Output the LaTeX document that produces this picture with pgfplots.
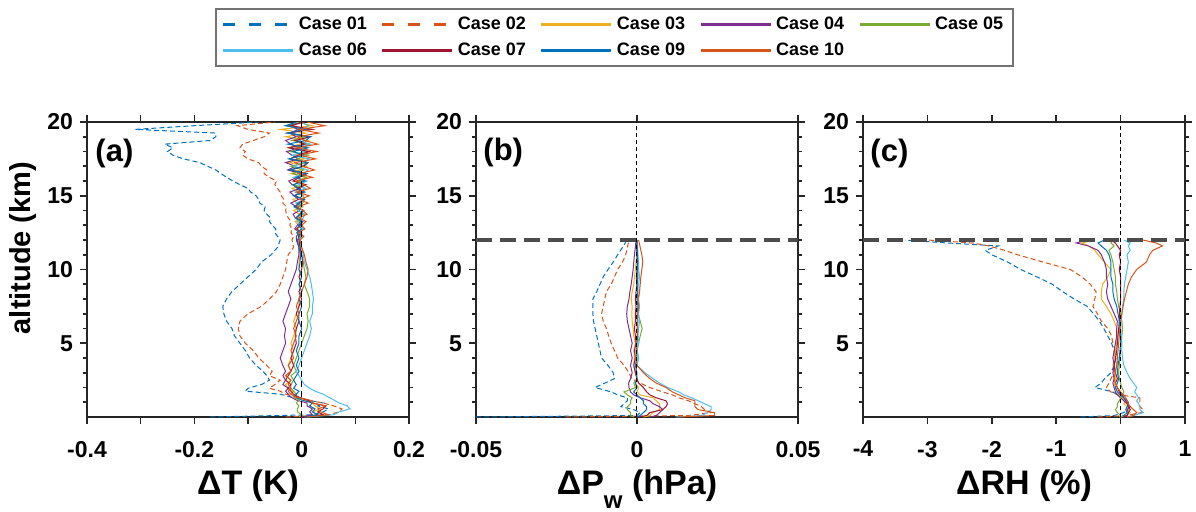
\documentclass[border=0pt]{standalone}
\usepackage{pgfplots}
\pgfplotsset{compat=1.18}
\usepackage{pgfplotstable}
\usepackage{fontspec}
\setmainfont{Liberation Sans}

\definecolor{c01}{HTML}{0072BD}
\definecolor{c02}{HTML}{D95319}
\definecolor{c03}{HTML}{EDB120}
\definecolor{c04}{HTML}{7E2F8E}
\definecolor{c05}{HTML}{77AC30}
\definecolor{c06}{HTML}{4DBEEE}
\definecolor{c07}{HTML}{A2142F}
\definecolor{c09}{HTML}{0072BD}
\definecolor{c10}{HTML}{D95319}
\definecolor{axc}{HTML}{262626}

% Panel (a): Delta T (K)
\pgfplotstableread{
alt c01 c02 c03 c04 c05 c06 c07 c09 c10
0.0 -0.17 -0.03 0.005 0.0 -0.005 0.01 0.0 0.005 0.01
0.15 0.02 0.05 0.03 0.02 0.0 0.06 0.04 0.03 0.05
0.35 0.04 0.07 0.02 0.015 -0.008 0.07 0.03 0.02 0.035
0.55 0.05 0.075 0.035 0.02 -0.008 0.09 0.04 0.025 0.03
0.75 0.03 0.06 0.025 0.01 -0.005 0.085 0.045 0.015 0.045
0.95 0.04 0.04 0.02 0.01 -0.01 0.07 0.02 0.02 0.02
1.15 0.01 0.01 0.005 -0.01 -0.005 0.06 0.01 0.0 0.015
1.35 -0.02 -0.01 -0.01 -0.02 -0.015 0.05 -0.005 -0.01 -0.01
1.55 -0.04 -0.03 -0.02 -0.025 -0.01 0.04 -0.015 -0.01 -0.02
1.75 -0.105 -0.04 -0.015 -0.03 -0.015 0.025 -0.02 -0.005 -0.025
1.95 -0.10 -0.06 -0.025 -0.025 -0.02 0.015 -0.025 -0.015 -0.02
2.2 -0.075 -0.05 -0.03 -0.035 -0.02 0.005 -0.02 -0.01 -0.025
2.5 -0.06 -0.04 -0.02 -0.03 -0.015 0.0 -0.03 -0.015 -0.02
2.8 -0.065 -0.06 -0.03 -0.035 -0.02 -0.005 -0.025 -0.01 -0.03
3.1 -0.072 -0.055 -0.02 -0.03 -0.01 -0.01 -0.02 -0.005 -0.02
3.5 -0.085 -0.065 -0.025 -0.035 -0.015 -0.005 -0.015 -0.01 -0.025
4.0 -0.097 -0.08 -0.02 -0.04 -0.01 0.0 -0.02 -0.005 -0.015
4.5 -0.105 -0.09 -0.015 -0.035 -0.005 0.005 -0.015 -0.01 -0.02
5.0 -0.115 -0.105 -0.02 -0.03 0.0 0.01 -0.01 -0.005 -0.015
5.5 -0.125 -0.115 -0.015 -0.032 0.005 0.015 -0.012 -0.005 -0.01
6.0 -0.13 -0.118 -0.01 -0.03 0.01 0.018 -0.01 0.0 -0.015
6.5 -0.14 -0.115 -0.015 -0.035 0.012 0.015 -0.005 -0.005 -0.01
7.0 -0.145 -0.10 -0.01 -0.03 0.01 0.02 -0.01 -0.005 -0.005
7.5 -0.147 -0.075 -0.005 -0.025 0.015 0.02 -0.005 0.0 -0.01
8.0 -0.14 -0.06 -0.005 -0.02 0.015 0.022 0.0 -0.005 -0.005
8.5 -0.13 -0.047 0.0 -0.025 0.01 0.02 -0.005 0.0 0.0
9.0 -0.115 -0.04 -0.005 -0.02 0.005 0.018 0.0 -0.005 0.005
9.5 -0.10 -0.035 0.0 -0.015 0.008 0.015 -0.005 0.0 0.01
10.0 -0.085 -0.03 -0.005 -0.01 0.005 0.01 0.0 -0.005 0.012
10.5 -0.075 -0.028 -0.005 -0.008 0.003 0.005 0.002 -0.003 0.008
11.0 -0.057 -0.025 -0.003 -0.005 0.0 0.003 0.0 -0.002 0.005
11.5 -0.045 -0.015 -0.005 -0.005 -0.002 0.0 -0.003 -0.005 0.0
12.0 -0.04 -0.018 -0.008 -0.01 -0.005 -0.003 -0.005 -0.008 -0.003
12.25 -0.045 -0.015 -0.002 -0.01 0.0 0.002 -0.006 -0.004 0.004
12.5 -0.05 -0.02 -0.009 -0.004 -0.006 -0.005 0.0 -0.009 -0.005
12.75 -0.048 -0.018 0.001 -0.013 -0.01 0.004 -0.009 0.0 0.006
13.0 -0.055 -0.022 -0.006 -0.008 0.001 -0.003 -0.003 -0.006 0.0
13.25 -0.06 -0.02 -0.012 -0.002 -0.004 -0.008 0.002 0.002 0.008
13.5 -0.058 -0.025 0.0 -0.012 -0.011 0.003 -0.01 -0.011 -0.005
13.75 -0.065 -0.028 -0.004 -0.016 0.003 0.006 -0.004 -0.002 0.01
14.0 -0.07 -0.03 -0.015 -0.004 -0.006 -0.007 0.004 0.003 0.002
14.25 -0.068 -0.028 0.003 -0.01 -0.013 0.0 -0.012 -0.014 -0.008
14.5 -0.078 -0.035 -0.008 -0.02 0.002 -0.011 -0.006 -0.004 0.012
14.75 -0.08 -0.033 -0.016 -0.006 0.005 0.006 0.005 0.004 -0.003
15.0 -0.085 -0.038 0.004 -0.014 -0.012 0.002 -0.014 -0.015 0.014
15.25 -0.095 -0.04 -0.003 -0.022 -0.004 -0.012 0.002 0.006 -0.009
15.5 -0.10 -0.045 -0.018 -0.003 0.007 0.007 -0.008 -0.008 0.016
15.75 -0.115 -0.05 0.006 -0.018 -0.015 -0.006 0.008 -0.016 0.004
16.0 -0.128 -0.047 -0.01 -0.024 -0.002 0.01 -0.016 0.006 -0.01
16.25 -0.14 -0.06 0.008 -0.008 0.009 -0.015 -0.004 -0.01 0.02
16.5 -0.15 -0.07 -0.02 -0.002 -0.016 0.004 0.01 0.008 -0.006
16.75 -0.16 -0.065 -0.004 -0.026 0.004 0.012 -0.02 -0.022 0.024
17.0 -0.175 -0.075 0.01 -0.012 -0.02 -0.014 0.004 0.002 0.002
17.25 -0.19 -0.08 -0.024 -0.03 0.01 0.0 0.012 0.01 -0.012
17.5 -0.22 -0.10 0.005 -0.006 -0.008 0.014 -0.022 -0.024 0.026
17.75 -0.24 -0.11 -0.012 -0.018 0.013 -0.018 -0.006 0.004 -0.004
18.0 -0.25 -0.105 0.014 -0.028 -0.022 0.006 0.014 -0.016 0.028
18.25 -0.24 -0.115 -0.026 -0.004 0.002 -0.022 -0.024 0.012 -0.01
18.5 -0.255 -0.11 -0.004 -0.02 0.015 0.015 0.006 -0.026 0.03
18.75 -0.17 -0.09 0.012 -0.03 -0.018 -0.006 -0.012 0.008 0.005
19.0 -0.16 -0.07 -0.03 -0.01 0.006 0.016 0.016 0.016 -0.008
19.25 -0.16 -0.06 0.008 -0.022 -0.024 -0.02 -0.026 -0.027 0.032
19.5 -0.31 -0.10 -0.04 -0.006 0.012 0.004 0.02 0.006 -0.005
19.75 -0.20 -0.12 0.02 -0.025 -0.03 0.012 -0.02 -0.03 0.043
20.0 -0.08 -0.05 -0.01 0.0 -0.005 0.0 0.005 -0.01 0.01
}\tabA

% Panel (b): Delta Pw (hPa)
\pgfplotstableread{
alt c01 c02 c03 c04 c05 c06 c07 c09 c10
0.0 -0.05 -0.022 0.002 0.004 -0.001 0.012 0.0 0.0 0.013
0.1 0.0 0.016 0.004 0.006 -0.002 0.02 0.003 0.001 0.024
0.3 0.001 0.023 0.005 0.007 -0.002 0.022 0.004 0.002 0.024
0.5 -0.001 0.021 0.007 0.008 -0.003 0.023 0.008 0.003 0.019
0.7 -0.005 0.02 0.007 0.007 -0.003 0.023 0.009 0.003 0.018
0.9 -0.004 0.018 0.007 0.005 -0.002 0.021 0.0095 0.002 0.018
1.1 -0.003 0.016 0.006 0.004 -0.002 0.019 0.009 0.002 0.018
1.3 -0.003 0.013 0.005 0.001 -0.0015 0.017 0.006 0.001 0.015
1.5 -0.006 0.011 0.001 -0.001 -0.003 0.0145 0.004 0.0 0.013
1.7 -0.008 0.008 0.0 -0.002 -0.004 0.013 0.003 -0.001 0.011
2.0 -0.013 0.004 0.0005 -0.0025 -0.0005 0.0095 0.002 0.0 0.009
2.3 -0.01 0.001 -0.0005 -0.0026 -0.001 0.007 0.0005 -0.0005 0.006
2.6 -0.007 -0.0016 0.0 -0.002 0.0 0.005 0.0 0.0 0.004
3.0 -0.0074 -0.0025 -0.0005 -0.0015 -0.0005 0.0025 -0.0005 0.0 0.002
3.5 -0.009 -0.004 -0.001 -0.002 0.0 0.0 -0.001 -0.0005 0.0
4.0 -0.011 -0.006 -0.0008 -0.0015 0.0005 0.0005 -0.0005 0.0 -0.0005
4.5 -0.0115 -0.007 -0.001 -0.002 0.0 0.0 -0.0008 -0.0003 0.0
5.0 -0.012 -0.008 -0.0005 -0.0015 0.0005 0.0005 -0.0003 0.0 -0.0003
5.5 -0.0125 -0.0088 -0.001 -0.002 0.001 0.0003 -0.0005 0.0002 0.0
6.0 -0.013 -0.0095 -0.0012 -0.0025 0.0016 0.0005 -0.0008 0.0 0.0003
6.5 -0.0135 -0.0105 -0.0015 -0.003 0.001 0.0008 -0.0005 0.0003 0.0
7.0 -0.0137 -0.011 -0.0016 -0.0032 0.0003 0.0005 -0.0005 0.0 0.0002
7.5 -0.0137 -0.0105 -0.0015 -0.003 0.0005 0.0008 -0.0003 0.0003 0.0005
8.0 -0.0137 -0.01 -0.0018 -0.0025 0.0 0.0005 -0.0005 0.0 0.0003
8.5 -0.0125 -0.0095 -0.0015 -0.0022 0.0003 0.0008 -0.0003 0.0002 0.0008
9.0 -0.0115 -0.008 -0.001 -0.0018 0.0 0.0005 0.0 0.0 0.001
9.5 -0.0105 -0.007 -0.0008 -0.0015 0.0002 0.0008 -0.0002 0.0003 0.0012
10.0 -0.009 -0.006 -0.0005 -0.0012 0.0 0.0005 0.0 0.0002 0.0015
10.5 -0.0074 -0.0045 -0.0003 -0.001 0.0002 0.0005 0.0002 0.0 0.0018
11.0 -0.006 -0.0035 0.0 -0.0008 0.0 0.0003 0.0 0.0002 0.0015
11.5 -0.0045 -0.003 -0.0002 -0.0005 0.0 0.0002 0.0 0.0 0.001
12.0 -0.0031 -0.0025 -0.0002 -0.0003 0.0 0.0 0.0 0.0 0.0005
}\tabB

% Panel (c): Delta RH (%)
\pgfplotstableread{
alt c01 c02 c03 c04 c05 c06 c07 c09 c10
0.0 -0.62 -0.35 0.0 0.05 -0.02 0.1 0.05 0.03 0.1
0.1 -0.1 0.1 0.1 0.1 0.0 0.2 0.1 0.05 0.2
0.3 0.05 0.32 0.15 0.12 -0.05 0.35 0.12 0.1 0.25
0.5 0.1 0.35 0.12 0.1 -0.08 0.3 0.15 0.08 0.2
0.7 0.14 0.3 0.1 0.15 -0.05 0.3 0.12 0.1 0.15
0.9 0.14 0.3 0.05 0.1 -0.05 0.28 0.1 0.12 0.12
1.1 0.1 0.3 0.08 0.05 -0.02 0.25 0.08 0.1 0.1
1.3 0.09 0.3 0.02 0.0 0.0 0.28 0.05 0.05 0.08
1.5 -0.05 -0.01 -0.02 -0.05 0.02 0.25 0.02 0.0 0.05
1.7 -0.12 -0.15 -0.05 -0.08 0.05 0.22 -0.02 -0.05 0.0
2.0 -0.4 -0.22 -0.08 -0.1 0.02 0.25 -0.05 -0.08 -0.05
2.3 -0.3 -0.18 -0.1 -0.12 0.0 0.2 -0.08 -0.05 -0.08
2.6 -0.25 -0.15 -0.08 -0.1 -0.02 0.15 -0.05 -0.03 -0.1
3.0 -0.15 -0.1 -0.1 -0.12 -0.03 0.1 -0.08 -0.05 -0.08
3.5 -0.1 -0.06 -0.12 -0.1 -0.02 0.05 -0.1 -0.04 -0.06
4.0 -0.07 -0.04 -0.1 -0.12 -0.01 0.03 -0.08 -0.02 -0.05
4.5 -0.1 -0.08 -0.08 -0.1 0.0 0.02 -0.06 -0.01 -0.04
5.0 -0.14 -0.12 -0.06 -0.08 0.01 0.02 -0.05 0.0 -0.03
5.5 -0.2 -0.14 -0.05 -0.06 0.02 0.01 -0.04 0.0 -0.02
6.0 -0.26 -0.2 -0.06 -0.06 0.03 0.0 -0.03 -0.01 -0.01
6.5 -0.33 -0.3 -0.1 -0.05 0.02 0.01 -0.02 -0.02 0.0
7.0 -0.42 -0.36 -0.15 -0.1 0.0 0.02 -0.02 -0.04 0.02
7.5 -0.52 -0.43 -0.22 -0.15 -0.03 0.03 -0.01 -0.06 0.04
8.0 -0.72 -0.4 -0.3 -0.2 -0.05 0.05 0.0 -0.1 0.06
8.5 -0.9 -0.38 -0.3 -0.22 -0.06 0.05 0.0 -0.12 0.09
9.0 -1.06 -0.47 -0.28 -0.2 -0.08 0.06 0.0 -0.12 0.12
9.5 -1.3 -0.6 -0.2 -0.22 -0.08 0.08 0.0 -0.15 0.17
10.0 -1.55 -0.78 -0.15 -0.22 -0.1 0.1 -0.02 -0.15 0.25
10.5 -1.75 -1.2 -0.25 -0.25 -0.12 0.12 0.0 -0.15 0.4
11.0 -2.0 -1.6 -0.35 -0.3 -0.15 0.1 -0.02 -0.18 0.45
11.3 -2.1 -1.8 -0.4 -0.35 -0.18 0.15 0.0 -0.22 0.5
11.6 -1.9 -2.05 -0.5 -0.5 -0.1 0.12 -0.05 -0.3 0.65
11.8 -2.7 -2.3 -0.6 -0.69 -0.15 0.15 -0.08 -0.35 0.55
12.0 -3.35 -3.0 -0.4 -0.5 -0.12 0.05 -0.15 -0.25 0.35
}\tabC

\pgfplotsset{
  legdash/.style={},
  s01/.style={color=c01, line width=0.5pt, dash pattern=on 2.5pt off 1.5pt, legdash/.style={dash pattern=on 6pt off 7pt}},
  s02/.style={color=c02, line width=0.5pt, dash pattern=on 2.5pt off 1.5pt, legdash/.style={dash pattern=on 6pt off 7pt}},
  s03/.style={color=c03, line width=0.5pt, solid},
  s04/.style={color=c04, line width=0.5pt, solid},
  s05/.style={color=c05, line width=0.5pt, solid},
  s06/.style={color=c06, line width=0.5pt, solid},
  s07/.style={color=c07, line width=0.5pt, solid},
  s09/.style={color=c09, line width=0.5pt, solid},
  s10/.style={color=c10, line width=0.5pt, solid},
  myaxis/.style={
    scale only axis, width=161pt, height=147.5pt,
    ymin=0, ymax=20,
    ytick={5,10,15,20}, yticklabels={5,10,15,20},
    minor ytick={1,2,3,4,6,7,8,9,11,12,13,14,16,17,18,19},
    tick align=outside,
    major tick length=3.5pt, minor tick length=2pt,
    axis line style={line width=1pt, color=axc},
    every tick/.style={line width=0.8pt, color=axc},
    tick label style={font=\bfseries\fontsize{11.5}{12}\selectfont, color=black},
    xticklabel style={yshift=-5pt},
    scaled x ticks=false,
    xlabel style={font=\bfseries\fontsize{17}{18}\selectfont, at={(axis description cs:0.5,0)}, anchor=north, inner sep=0pt, yshift=-26pt},
    ylabel style={font=\bfseries\fontsize{14.5}{15}\selectfont},
  },
}

\begin{document}
\begin{tikzpicture}
\useasboundingbox (-43.5pt,-47pt) rectangle (554.5pt,208.5pt);

% ---------- (a) ----------
\begin{axis}[myaxis, at={(0pt,0pt)}, anchor=south west,
  xmin=-0.4, xmax=0.2,
  xtick={-0.4,-0.3,-0.2,-0.1,0,0.1,0.2},
  xticklabels={-0.4,,-0.2,,0,,0.2},
  xlabel={ΔT (K)},
  ylabel={altitude (km)},
  ylabel style={at={(axis description cs:-0.199,0.573)}, anchor=center},
  legend columns=5,
  legend cell align=left,
  legend image code/.code={\draw[line width=1.5pt, /pgfplots/legdash] (0pt,0pt) -- (35pt,0pt);},
  legend style={at={(axis description cs:0.3975,1.386)}, anchor=north west,
    draw=black!55, line width=0.9pt, fill=white,
    font=\bfseries\fontsize{9}{10}\selectfont,
    inner xsep=3pt, inner ysep=2pt,
    /tikz/every even column/.append style={column sep=5pt},
    row sep=1pt},
]
\addplot[s01] table[x=c01,y=alt]{\tabA}; \addlegendentry{Case 01}
\addplot[s02] table[x=c02,y=alt]{\tabA}; \addlegendentry{Case 02}
\addplot[s03] table[x=c03,y=alt]{\tabA}; \addlegendentry{Case 03}
\addplot[s04] table[x=c04,y=alt]{\tabA}; \addlegendentry{Case 04}
\addplot[s05] table[x=c05,y=alt]{\tabA}; \addlegendentry{Case 05}
\addplot[s06] table[x=c06,y=alt]{\tabA}; \addlegendentry{Case 06}
\addplot[s07] table[x=c07,y=alt]{\tabA}; \addlegendentry{Case 07}
\addplot[s09] table[x=c09,y=alt]{\tabA}; \addlegendentry{Case 09}
\addplot[s10] table[x=c10,y=alt]{\tabA}; \addlegendentry{Case 10}
\addplot[black, line width=0.8pt, dash pattern=on 3pt off 2pt, forget plot] coordinates {(0,0) (0,20)};
\node[anchor=west, font=\bfseries\fontsize{15.5}{16}\selectfont, inner sep=0pt] at (rel axis cs:0.025,0.895) {(a)};
\end{axis}

% ---------- (b) ----------
\begin{axis}[myaxis, at={(194.5pt,0pt)}, anchor=south west,
  xmin=-0.05, xmax=0.05,
  xtick={-0.05,0,0.05},
  xticklabels={-0.05,0,0.05},
  xlabel={ΔP\raisebox{-0.42em}{\fontsize{12}{12}\selectfont w} (hPa)},
]
\addplot[s01] table[x=c01,y=alt]{\tabB};
\addplot[s02] table[x=c02,y=alt]{\tabB};
\addplot[s03] table[x=c03,y=alt]{\tabB};
\addplot[s04] table[x=c04,y=alt]{\tabB};
\addplot[s05] table[x=c05,y=alt]{\tabB};
\addplot[s06] table[x=c06,y=alt]{\tabB};
\addplot[s07] table[x=c07,y=alt]{\tabB};
\addplot[s09] table[x=c09,y=alt]{\tabB};
\addplot[s10] table[x=c10,y=alt]{\tabB};
\addplot[black, line width=0.5pt, dash pattern=on 2pt off 1.5pt] coordinates {(0,0) (0,20)};
\addplot[black!70, line width=2pt, dash pattern=on 8pt off 4pt] coordinates {(-0.05,12) (0.05,12)};
\node[anchor=west, font=\bfseries\fontsize{15.5}{16}\selectfont, inner sep=0pt] at (rel axis cs:0.022,0.895) {(b)};
\end{axis}

% ---------- (c) ----------
\begin{axis}[myaxis, at={(388pt,0pt)}, anchor=south west,
  xmin=-4, xmax=1,
  xtick={-4,-3,-2,-1,0,1},
  xticklabels={-4,-3,-2,-1,0,1},
  xlabel={ΔRH (\%)},
]
\addplot[s01] table[x=c01,y=alt]{\tabC};
\addplot[s02] table[x=c02,y=alt]{\tabC};
\addplot[s03] table[x=c03,y=alt]{\tabC};
\addplot[s04] table[x=c04,y=alt]{\tabC};
\addplot[s05] table[x=c05,y=alt]{\tabC};
\addplot[s06] table[x=c06,y=alt]{\tabC};
\addplot[s07] table[x=c07,y=alt]{\tabC};
\addplot[s09] table[x=c09,y=alt]{\tabC};
\addplot[s10] table[x=c10,y=alt]{\tabC};
\addplot[black, line width=0.5pt, dash pattern=on 2pt off 1.5pt] coordinates {(0,0) (0,20)};
\addplot[black!70, line width=2pt, dash pattern=on 8pt off 4pt] coordinates {(-4,12) (1,12)};
\node[anchor=west, font=\bfseries\fontsize{15.5}{16}\selectfont, inner sep=0pt] at (rel axis cs:0.022,0.895) {(c)};
\end{axis}
\end{tikzpicture}
\end{document}
